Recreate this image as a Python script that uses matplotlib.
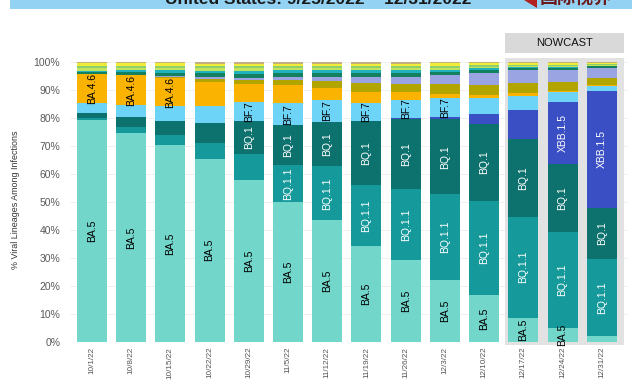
import matplotlib
matplotlib.use('Agg')
import matplotlib.pyplot as plt
from matplotlib.patches import Rectangle, Polygon

# weekly proportions (%), bottom to top of each bar
weeks = ['10/1/22', '10/8/22', '10/15/22', '10/22/22', '10/29/22', '11/5/22', '11/12/22',
         '11/19/22', '11/26/22', '12/3/22', '12/10/22', '12/17/22', '12/24/22', '12/31/22']
ba5   = [79.2, 74.6, 70.2, 65.5, 57.7, 49.9, 43.5, 34.2, 29.2, 22.2, 16.8, 8.7, 5.1, 2.2]
bq11  = [0.8, 2.1, 3.6, 5.6, 9.3, 13.2, 19.2, 21.7, 25.5, 30.5, 33.7, 36.1, 34.1, 27.3]
bq1   = [1.8, 3.7, 5.1, 7.1, 12.0, 14.3, 16.0, 23.1, 25.0, 26.9, 27.2, 27.8, 24.5, 18.5]
xbb15 = [0.0, 0.0, 0.0, 0.0, 0.0, 0.0, 0.0, 0.0, 0.3, 0.8, 3.8, 10.2, 22.1, 41.5]
bf7   = [3.4, 4.2, 5.3, 6.0, 6.8, 7.8, 7.6, 6.2, 6.4, 6.8, 5.6, 5.2, 3.6, 2.0]
ba46  = [10.5, 10.6, 10.0, 8.7, 6.5, 6.6, 4.4, 4.2, 3.0, 1.5, 1.2, 0.8, 0.3, 0.2]
bn1   = [0.0, 0.2, 0.6, 1.0, 1.3, 1.7, 2.5, 3.2, 2.9, 3.3, 3.4, 3.7, 3.2, 2.6]
xbb   = [0.0, 0.0, 0.2, 0.6, 0.7, 1.2, 1.5, 1.9, 2.2, 3.2, 4.4, 4.6, 4.2, 3.6]
ba275 = [0.9, 1.1, 1.2, 1.4, 1.5, 1.4, 1.4, 1.5, 1.5, 1.3, 1.0, 0.7, 0.8, 0.6]
ba2752 = [0.3, 0.7, 0.8, 0.9, 1.0, 1.0, 1.0, 1.0, 1.0, 0.8, 0.6, 0.3, 0.2, 0.1]
bf11  = [0.9, 0.8, 0.9, 0.9, 0.9, 0.8, 0.8, 0.8, 0.8, 0.7, 0.6, 0.5, 0.5, 0.3]
ba4   = [0.8, 0.7, 0.8, 0.8, 0.8, 0.7, 0.7, 0.8, 0.8, 0.7, 0.6, 0.5, 0.5, 0.5]
ba526 = [0.9, 0.8, 0.8, 0.9, 0.9, 0.8, 0.8, 0.8, 0.8, 0.8, 0.7, 0.6, 0.6, 0.4]
ba2   = [0.5, 0.5, 0.5, 0.6, 0.6, 0.6, 0.6, 0.6, 0.6, 0.5, 0.4, 0.3, 0.3, 0.2]

series = [
  ('BA.5',      ba5,    '#72d6cb', 'black', range(0, 13)),
  ('BQ.1.1',    bq11,   '#15999a', 'white', range(5, 14)),
  ('BQ.1',      bq1,    '#0d716d', 'white', range(4, 14)),
  ('XBB.1.5',   xbb15,  '#3a4fc4', 'white', range(12, 14)),
  ('BF.7',      bf7,    '#6dd3f7', 'black', range(4, 10)),
  ('BA.4.6',    ba46,   '#f9b300', 'black', range(0, 3)),
  ('BN.1',      bn1,    '#b3a500', None, []),
  ('XBB',       xbb,    '#9ba4e3', None, []),
  ('BA.2.75',   ba275,  '#13805f', None, []),
  ('BA.2.75.2', ba2752, '#1fb3c0', None, []),
  ('BF.11',     bf11,   '#c3e35a', None, []),
  ('BA.4',      ba4,    '#8ccf6c', None, []),
  ('BA.5.2.6',  ba526,  '#f0ec3a', None, []),
  ('BA.2',      ba2,    '#c4b07c', None, []),
]

plt.rcParams['font.family'] = ['Liberation Sans', 'DejaVu Sans']

fig = plt.figure(figsize=(6.41, 3.80), dpi=100)
ax = fig.add_axes([70/641., 38/380., 558/641., 280/380.])

x = list(range(len(weeks)))
width = 0.765
bottom = [0.0]*len(weeks)
for name, vals, col, tcol, labelled in series:
  ax.bar(x, vals, width, bottom=bottom, color=col, linewidth=0, zorder=3)
  for i in labelled:
    ax.text(i, bottom[i] + vals[i]/2., name, rotation=90, ha='center', va='center',
            color=tcol, fontsize=7.5, zorder=4)
  bottom = [b + v for b, v in zip(bottom, vals)]

ax.set_xlim(-0.56, 13.67)
ax.set_ylim(0, 100)

# nowcast shading + header
ax.add_patch(Rectangle((10.54, -1.2), 3.03, 102.8, facecolor='#e2e2e2', edgecolor='none',
                       zorder=1, clip_on=False))
ax.add_patch(Rectangle((10.54, 103.2), 3.03, 7.2, facecolor='#d9d9d9', edgecolor='none',
                       zorder=1, clip_on=False))
ax.text(12.05, 106.8, 'NOWCAST', ha='center', va='center', fontsize=8, color='#111111',
        clip_on=False)

ax.set_yticks(range(0, 101, 10))
ax.set_yticklabels(['%d%%' % v for v in range(0, 101, 10)], fontsize=7.5, color='#5a5a5a')
ax.set_xticks(x)
ax.set_xticklabels(weeks, rotation=90, fontsize=5.9, color='#555555')
ax.tick_params(length=0)
ax.tick_params(axis='y', pad=7)
ax.tick_params(axis='x', pad=3.5)
for s in ax.spines.values(): s.set_visible(False)
ax.yaxis.grid(True, color='#eeeeee', linewidth=0.6, zorder=0)
ax.set_axisbelow(True)

fig.text(0.024, 0.474, '% Viral Lineages Among Infections', rotation=90, ha='center',
         va='center', fontsize=6.4, color='#333333')

# title banner, cut off at the top of the picture
fig.patches.append(Rectangle((10/641., 1 - 8.5/380.), 622/641., 8.5/380., transform=fig.transFigure,
                             facecolor='#93d2f2', edgecolor='none', zorder=0))
fig.text(318/641., 1 - 4/380., 'United States: 9/25/2022 \u2013 12/31/2022', ha='center',
         va='baseline', fontsize=12.5, weight='bold', color='#1a1a1a')
fig.patches.append(Polygon([(524/641., 1.0), (537/641., 1.0), (537/641., 1 - 8/380.)],
                           closed=True, transform=fig.transFigure, facecolor='#b22222',
                           edgecolor='none'))
fig.text(540/641., 1 - 4/380., '国际视界', ha='left', va='baseline', fontsize=13,
         weight='bold', color='#6b1b1b', family=['Noto Sans CJK SC', 'DejaVu Sans'])

plt.savefig('out.png', dpi=100)
